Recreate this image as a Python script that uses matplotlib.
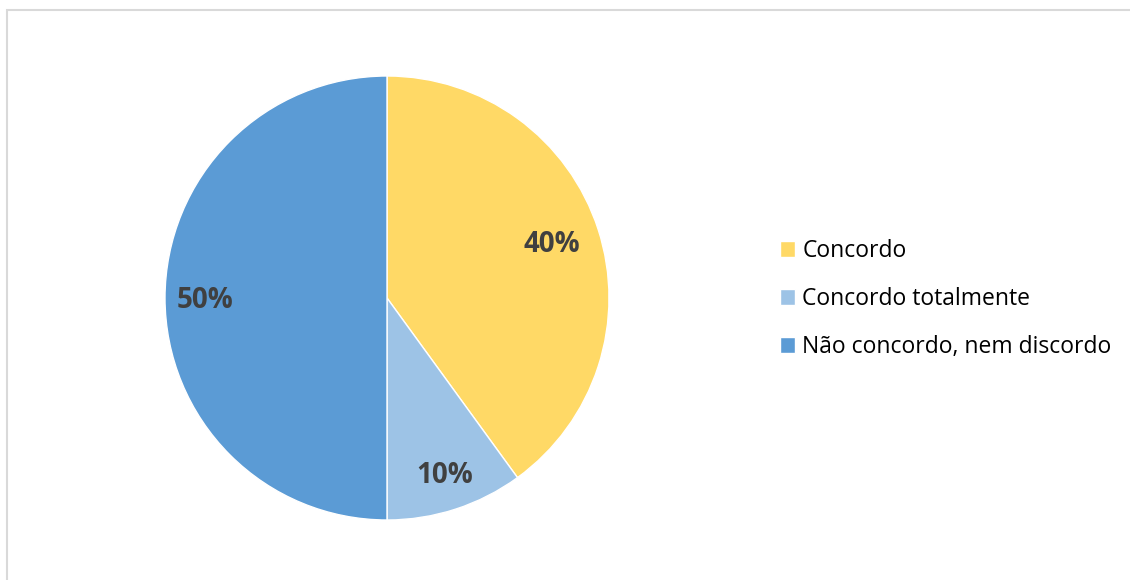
import matplotlib
matplotlib.use("Agg")
import matplotlib.pyplot as plt
import numpy as np
from matplotlib.patches import Rectangle

labels = ["Concordo", "Concordo totalmente", "Não concordo, nem discordo"]
values = [40, 10, 50]
colors = ["#FFD966", "#9DC3E6", "#5B9BD5"]

plt.rcParams["font.family"] = ["Open Sans", "DejaVu Sans"]

fig = plt.figure(figsize=(11.3, 5.8), dpi=100)
W, H = 1130, 580

# chart area border (light gray, runs off right/bottom)
fig.patches.append(Rectangle((7 / W, -0.05), 1.2, (570 / H) + 0.05,
                             transform=fig.transFigure, fill=False,
                             edgecolor="#d9d9d9", linewidth=1.5))

cx, cy, r = 387, 580 - 298, 222
ax = fig.add_axes([(cx - r) / W, (cy - r) / H, 2 * r / W, 2 * r / H])
wedges, texts, autotexts = ax.pie(values, colors=colors, startangle=90,
                                  counterclock=False, radius=1,
                                  autopct="%1.0f%%", pctdistance=0.8,
                                  wedgeprops=dict(edgecolor="white", linewidth=1),
                                  textprops=dict(fontsize=20, fontweight="bold",
                                                 color="#404040"))
# label placement like Excel "best fit"
for w, t, d in zip(wedges[:2], autotexts[:2], [0.78, 0.84]):
    ang = np.deg2rad((w.theta1 + w.theta2) / 2)
    t.set_position((d * np.cos(ang), d * np.sin(ang)))
autotexts[2].set_position((-0.82, -0.01))
ax.set_xlim(-1, 1)
ax.set_ylim(-1, 1)
ax.set_aspect("equal")
ax.axis("off")

fig.legend(wedges, labels, loc="center left",
           bbox_to_anchor=(780 / W, (cy - 1) / H), frameon=False,
           borderpad=0, borderaxespad=0,
           fontsize=16.5, handlelength=0.65, handleheight=0.65,
           handletextpad=0.33, labelspacing=1.05)

fig.savefig("out.png", dpi=100)
